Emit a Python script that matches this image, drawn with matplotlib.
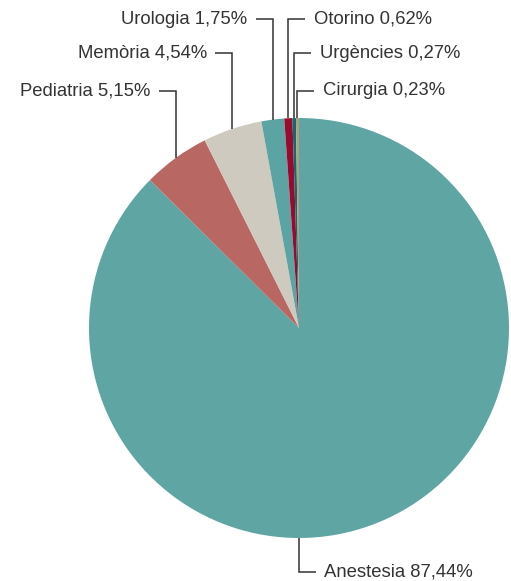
import numpy as np
import matplotlib
matplotlib.use('Agg')
import matplotlib.pyplot as plt

plt.rcParams['font.family'] = ['Liberation Sans', 'DejaVu Sans']

# services and their share of the total
services = ['Anestesia', 'Pediatria', 'Memòria', 'Urologia', 'Otorino', 'Urgències', 'Cirurgia']
shares = [87.44, 5.15, 4.54, 1.75, 0.62, 0.27, 0.23]
colors = ['#5fa5a4', '#b96762', '#cfcac0', '#5ca4a4', '#9b0a2e', '#0b6d6e', '#b49e7d']

# label rows (data units) and which side of the leader the text goes
label_y = [-1.162, 1.1286, 1.3095, 1.471, 1.471, 1.3095, 1.1286]
label_side = ['right', 'left', 'left', 'left', 'right', 'right', 'right']

ink = '#333333'

fig = plt.figure(figsize=(5.11, 5.81), dpi=100)
ax = fig.add_axes([0, 0, 1, 1])
wedges, _ = ax.pie(shares, colors=colors, startangle=90, counterclock=False,
                   radius=1.0, wedgeprops=dict(linewidth=0))

ax.set_xlim(-299 / 210, 212 / 210)
ax.set_ylim(-253 / 210, 328 / 210)
ax.set_aspect('equal')
ax.axis('off')

tick = 0.081
gap = 0.04
for i, (w, name, val) in enumerate(zip(wedges, services, shares)):
    if i == 0:
        ang = -90.0  # big slice gets its leader from the bottom
    else:
        ang = (w.theta1 + w.theta2) / 2.0
    x0 = np.cos(np.radians(ang))
    y0 = np.sin(np.radians(ang))
    ly = label_y[i]
    side = 1 if label_side[i] == 'right' else -1
    ax.plot([x0, x0, x0 + side * tick], [y0, ly, ly], color=ink, lw=1.1,
            solid_capstyle='butt', solid_joinstyle='miter')
    txt = f"{name} {val:.2f}%".replace('.', ',')
    ax.text(x0 + side * (tick + gap), ly, txt, color=ink, fontsize=13.3,
            ha='left' if side > 0 else 'right', va='center')

fig.savefig('out.png', dpi=100)
